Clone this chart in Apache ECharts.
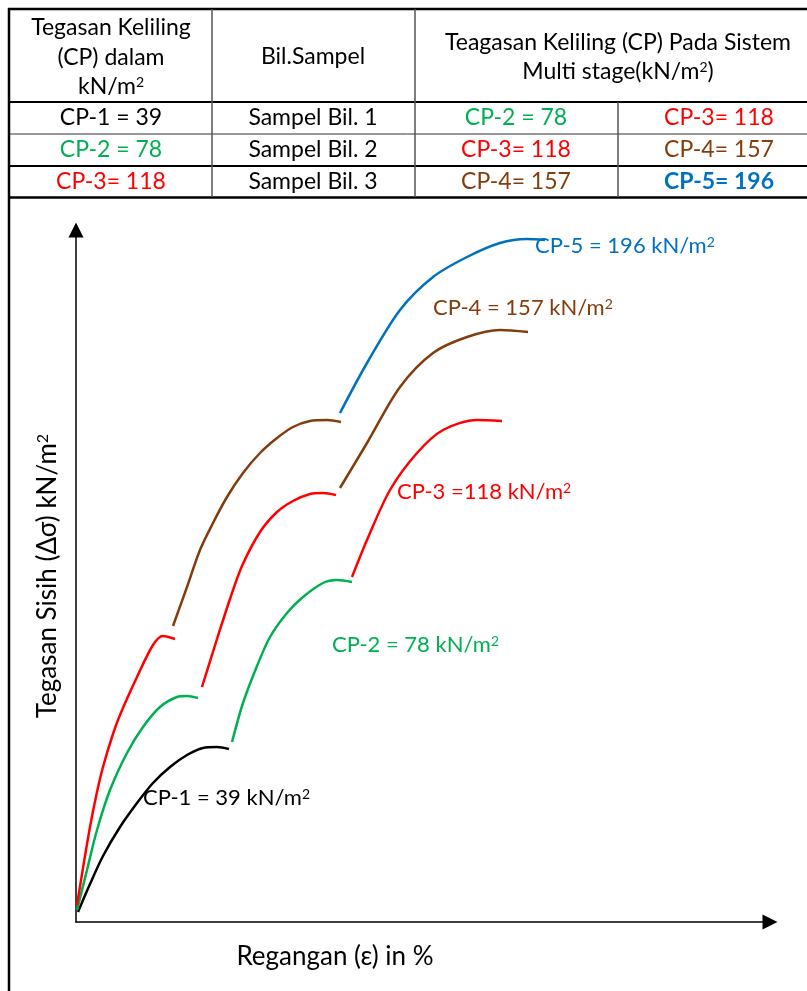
<!DOCTYPE html>
<html lang="ms">
<head>
    <meta charset="UTF-8">
    <title>Regangan - Tegasan Sisih</title>
    <script src="https://cdn.jsdelivr.net/npm/echarts@6/dist/echarts.min.js"></script>
</head>
<style>
html,body{margin:0;padding:0;background-color:#fff}
#chartBox{width:807px;height:991px}
</style>
<body>
    <div id="chartBox"></div>
</body>
<script>
// data (x: regangan, y: tegasan sisih, unit bebas)
const cp1Stage1 = [[2,10],[14,38],[27,66],[44,95],[61,119],[77,139],[94,155],[111,167],[127,174],[141,175],[153,173]];
const cp2Stage1 = [[1,12],[11,52],[21,92],[34,132],[51,169],[67,195],[84,215],[101,225],[111,226],[122,224]];
const cp2Stage2 = [[156,180],[167,219],[181,256],[194,285],[211,309],[227,325],[247,339],[261,342],[276,340]];
const cp3Stage1 = [[1,17],[8,60],[14,95],[21,130],[27,155],[36,185],[44,207],[61,245],[77,277],[87,286],[99,283]];
const cp3Stage2 = [[126,235],[141,283],[154,323],[166,356],[184,390],[201,410],[217,421],[234,428],[247,429],[260,427]];
const cp3Stage3 = [[276,345],[291,382],[314,432],[341,469],[367,492],[401,502],[426,501]];
const cp4Stage1 = [[97,296],[111,335],[124,372],[137,399],[151,425],[167,449],[184,469],[201,484],[217,495],[234,501],[251,502],[265,500]];
const cp4Stage2 = [[264,434],[291,479],[324,535],[357,569],[391,585],[424,592],[452,590]];
const cp5Stage1 = [[264,509],[291,559],[324,612],[357,645],[391,665],[424,679],[451,683],[469,682]];

const curveLabels = ['CP-1 = 39 kN/m{s|2}', 'CP-2 = 78 kN/m{s|2}', 'CP-3 =118 kN/m{s|2}', 'CP-4 = 157 kN/m{s|2}', 'CP-5 = 196 kN/m{s|2}'];

// jadual
const headCol1 = ['Tegasan Keliling', '(CP) dalam', 'kN/m{s|2}'];
const headCol2 = ['Bil.Sampel'];
const headCol3 = ['Teagasan Keliling (CP) Pada Sistem', 'Multi stage(kN/m{s|2})'];
const rowCP = ['CP-1 = 39', 'CP-2 = 78', 'CP-3= 118'];
const rowSampel = ['Sampel Bil. 1', 'Sampel Bil. 2', 'Sampel Bil. 3'];
const rowStage1 = ['CP-2 = 78', 'CP-3= 118', 'CP-4= 157'];
const rowStage2 = ['CP-3= 118', 'CP-4= 157', 'CP-5= 196'];

const C = {black:'#000000', green:'#00B050', red:'#FF0000', brown:'#843C0C', blue:'#0070C0'};
const FONT = 'Lato';

function txt(text, x, y, color, size, align, weight){
    return {
        type:'text', z:10,
        style:{
            text:text, x:x, y:y, fill:color || '#000',
            fontFamily:FONT, fontSize:size, fontWeight:weight || 'normal',
            textAlign:align || 'center', textVerticalAlign:'middle',
            rich:{s:{fontSize:Math.round(size * 0.62), verticalAlign:'top', fill:color || '#000', fontFamily:FONT, padding:[0,0,8,0]}}
        }
    };
}
function ln(x1, y1, x2, y2, w, color){
    return {type:'line', z:5, shape:{x1:x1, y1:y1, x2:x2, y2:y2}, style:{stroke:color || '#000', lineWidth:w}};
}

function buildGraphic(){
    let g = [];
    const TS = 23;
    // garis jadual
    g.push(ln(8, 9, 807, 9, 2.5));
    g.push(ln(8, 102, 807, 102, 2));
    g.push(ln(8, 134, 807, 134, 1, '#333'));
    g.push(ln(8, 166, 807, 166, 2));
    g.push(ln(8, 197.5, 807, 197.5, 2.5));
    g.push(ln(9, 8, 9, 991, 2.5));
    g.push(ln(212, 9, 212, 197, 1.5, '#555'));
    g.push(ln(415, 9, 415, 197, 1.5, '#555'));
    g.push(ln(618, 102, 618, 197, 1.5, '#555'));
    // teks jadual
    headCol1.forEach((t, i) => g.push(txt(t, 111, 28 + i * 29.5, C.black, TS)));
    g.push(txt(headCol2[0], 313, 57, C.black, TS));
    headCol3.forEach((t, i) => g.push(txt(t, 618, 43 + i * 29, C.black, TS)));
    const rowY = [118, 150, 181.5];
    const cpColor = [C.black, C.green, C.red];
    const s1Color = [C.green, C.red, C.brown];
    const s2Color = [C.red, C.brown, C.blue];
    rowY.forEach((y, i) => {
        g.push(txt(rowCP[i], 111, y, cpColor[i], TS));
        g.push(txt(rowSampel[i], 313, y, C.black, TS));
        g.push(txt(rowStage1[i], 516, y, s1Color[i], TS));
        g.push(txt(rowStage2[i], 719, y, s2Color[i], TS, 'center', i === 2 ? 'bold' : 'normal'));
    });
    // label lengkung
    const LS = 22;
    g.push(txt(curveLabels[0], 143, 798, C.black, LS, 'left'));
    g.push(txt(curveLabels[1], 332, 645, C.green, LS, 'left'));
    g.push(txt(curveLabels[2], 397, 492, C.red, LS, 'left'));
    g.push(txt(curveLabels[3], 433, 308, C.brown, LS, 'left'));
    g.push(txt(curveLabels[4], 535, 246, C.blue, LS, 'left'));
    return g;
}

function seg(data, color){
    return {
        type:'line', data:data, smooth:0.3, showSymbol:false, silent:true,
        lineStyle:{color:color, width:2.5}, z:3
    };
}

let chartObj = echarts.init(document.getElementById('chartBox'));
let option = {
    animation:false,
    textStyle:{fontFamily:FONT},
    grid:{left:76, right:37, top:230, bottom:69},
    xAxis:{
        type:'value', min:0, max:694,
        name:'Regangan (ε) in %', nameLocation:'middle', nameGap:22,
        nameTextStyle:{fontSize:26, color:'#000', fontFamily:FONT, padding:[0, 176, 0, 0]},
        axisLine:{show:true, symbol:['none','triangle'], symbolSize:[15,15], lineStyle:{color:'#000', width:1.5}},
        axisTick:{show:false}, axisLabel:{show:false}, splitLine:{show:false}
    },
    yAxis:{
        type:'value', min:0, max:692,
        name:'Tegasan Sisih (Δσ) kN/m{s|2}', nameLocation:'middle', nameGap:15, nameRotate:90,
        nameTextStyle:{
            fontSize:26, color:'#000', fontFamily:FONT,
            rich:{s:{fontSize:16, verticalAlign:'top', color:'#000', fontFamily:FONT, padding:[0,0,9,0]}}
        },
        axisLine:{show:true, symbol:['none','triangle'], symbolSize:[15,15], lineStyle:{color:'#000', width:1.5}},
        axisTick:{show:false}, axisLabel:{show:false}, splitLine:{show:false}
    },
    series:[
        seg(cp1Stage1, C.black),
        seg(cp2Stage1, C.green),
        seg(cp2Stage2, C.green),
        seg(cp3Stage1, C.red),
        seg(cp3Stage2, C.red),
        seg(cp3Stage3, C.red),
        seg(cp4Stage1, C.brown),
        seg(cp4Stage2, C.brown),
        seg(cp5Stage1, C.blue)
    ],
    graphic:buildGraphic()
};
chartObj.setOption(option);
</script>
</html>
